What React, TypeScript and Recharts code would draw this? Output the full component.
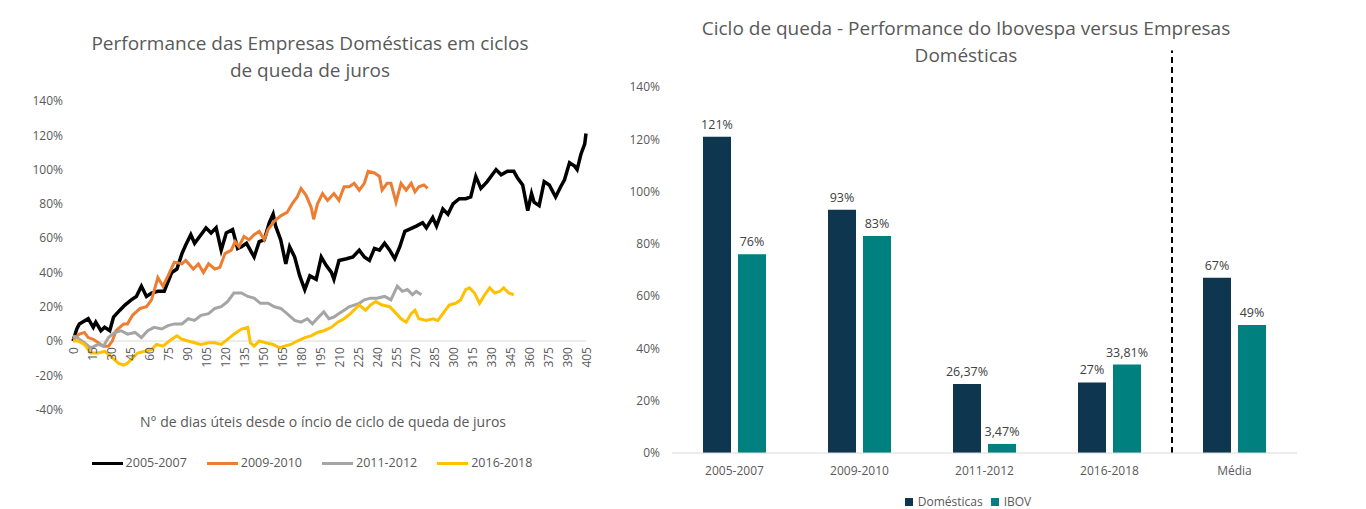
import React from 'react';
import {
  LineChart, Line, XAxis, YAxis, CartesianGrid, BarChart, Bar, LabelList, ReferenceLine,
} from 'recharts';

// ---------- Left chart data: [business day, performance %] ----------
const series2005: [number, number][] = [
  [0,0],[3,7],[5,10],[12,13],[16,8],[18,11],[22,6],[25,8],[29,6],[32,14],[37,18],[41,21],[46,24],[50,26],[54,32],[58,26],[62,28],[67,29],[72,29],[78,40],[82,42],[86,51],[89,56],[93,62],[96,57],[100,61],[105,66],[109,63],[113,66],[117,53],[121,63],[126,65],[130,54],[133,55],[137,57],[143,49],[147,58],[151,59],[155,69],[158,74],[160,67],[164,59],[168,45],[171,55],[175,49],[179,38],[183,30],[187,38],[192,36],[196,49],[200,44],[204,40],[206,36],[210,47],[216,48],[221,49],[226,53],[230,49],[234,47],[238,54],[242,53],[246,57],[250,53],[254,48],[258,55],[262,64],[268,66],[271,67],[276,69],[279,66],[284,72],[287,67],[292,77],[296,74],[300,80],[305,83],[310,83],[314,84],[318,96],[322,89],[327,93],[334,100],[338,97],[343,99],[348,99],[351,95],[355,91],[359,76],[362,86],[364,81],[368,79],[372,93],[376,91],[381,84],[385,90],[388,94],[392,104],[396,102],[398,100],[401,109],[404,115],[405,121],
];
const series2009: [number, number][] = [
  [0,1],[5,4],[9,5],[12,2],[16,1],[20,-1],[24,-3],[28,-3],[31,0],[34,6],[40,10],[43,10],[47,15],[53,19],[58,20],[62,24],[67,37],[71,32],[75,38],[80,46],[86,45],[89,47],[95,42],[99,45],[103,40],[107,45],[112,42],[116,43],[120,51],[125,53],[128,58],[131,55],[135,61],[139,59],[143,62],[147,64],[151,59],[154,65],[159,70],[164,73],[169,75],[173,80],[177,84],[180,89],[184,85],[188,78],[190,71],[193,80],[197,86],[201,82],[206,86],[210,82],[214,90],[218,90],[222,92],[226,88],[230,92],[233,99],[238,98],[242,96],[244,88],[248,92],[251,92],[255,81],[259,92],[263,88],[267,92],[270,87],[273,90],[277,91],[280,89],
];
const series2011: [number, number][] = [
  [0,3],[3,2],[9,-1],[14,-4],[20,-2],[24,-3],[28,2],[33,5],[38,6],[43,4],[49,5],[54,2],[59,6],[64,8],[70,7],[75,9],[80,10],[86,10],[91,13],[96,12],[101,15],[107,16],[112,19],[117,20],[122,23],[127,28],[133,28],[138,26],[143,25],[148,22],[154,22],[159,20],[164,19],[169,16],[175,12],[180,11],[185,13],[189,10],[194,14],[198,17],[202,13],[206,14],[210,16],[214,18],[218,20],[226,22],[230,24],[235,25],[240,25],[246,26],[251,24],[256,32],[260,29],[264,30],[268,27],[271,29],[275,27],
];
const series2016: [number, number][] = [
  [0,0],[4,0],[9,-2],[14,-7],[20,-7],[25,-6],[30,-9],[36,-13],[40,-14],[43,-13],[47,-10],[51,-7],[57,-6],[62,-5],[66,-2],[71,-3],[76,0],[82,3],[86,1],[91,0],[96,-1],[101,-2],[107,-1],[112,-1],[117,-2],[122,1],[127,4],[133,7],[138,8],[140,-1],[143,-3],[147,0],[152,-1],[158,-2],[163,-4],[167,-3],[172,-2],[177,0],[183,2],[188,3],[193,5],[198,6],[204,8],[209,11],[214,13],[219,16],[226,21],[231,18],[235,21],[239,23],[244,21],[250,20],[254,17],[259,13],[263,11],[267,16],[270,18],[273,13],[279,12],[284,13],[288,12],[292,16],[297,21],[302,22],[306,24],[310,30],[313,31],[317,28],[321,22],[325,27],[329,31],[333,28],[337,29],[340,31],[344,28],[348,27],
];
const lineNames = ['2005-2007', '2009-2010', '2011-2012', '2016-2018'];
const lineColors = ['#000000', '#ED7D31', '#A5A5A5', '#FFC000'];
const lineSeries = [series2005, series2009, series2011, series2016];
const xTicksLeft = [0,15,30,45,60,75,90,105,120,135,150,165,180,195,210,225,240,255,270,285,300,315,330,345,360,375,390,405];
const yTicksLeft = [-40,-20,0,20,40,60,80,100,120,140];

// ---------- Right chart data ----------
const barCategories = ['2005-2007', '2009-2010', '2011-2012', '2016-2018', 'Média'];
const domValues = [121, 93, 26.37, 27, 67];
const ibovValues = [76, 83, 3.47, 33.81, 49];
const domLabels = ['121%', '93%', '26,37%', '27%', '67%'];
const ibovLabels = ['76%', '83%', '3,47%', '33,81%', '49%'];
const barNames = ['Domésticas', 'IBOV'];
const barColors = ['#0E364F', '#00807E'];
const yTicksRight = [0,20,40,60,80,100,120,140];
const separatorCategory = 'Média'; // dashed separator drawn at the start of this band

const FONT = "'Open Sans', sans-serif";
const GRAY = '#595959';

// left plot geometry
const L_TOP = 101;
const L_H = 308.6;
const L_ZERO_Y = L_TOP + L_H * (140 / 180);

const XTickRotated = (props: any) => {
  const { x, payload } = props;
  return (
    <text
      transform={`translate(${x},${L_ZERO_Y + 6}) rotate(-90)`}
      textAnchor="end"
      dominantBaseline="central"
      fontSize={12}
      fill={GRAY}
      fontFamily={FONT}
    >
      {payload.value}
    </text>
  );
};

export default function App() {
  const lineData = lineSeries.map((s) => s.map(([d, v]) => ({ d, v })));
  const barData = barCategories.map((c, i) => ({
    cat: c,
    dom: domValues[i],
    ibov: ibovValues[i],
    domLabel: domLabels[i],
    ibovLabel: ibovLabels[i],
  }));

  return (
    <div style={{ position: 'absolute', left: 0, top: 0, width: 1366, height: 509, background: '#fff', fontFamily: FONT, color: GRAY, overflow: 'hidden' }}>
      {/* Left title */}
      <div style={{ position: 'absolute', left: 0, top: 30, width: 620, textAlign: 'center', fontSize: 19, lineHeight: '27px' }}>
        Performance das Empresas Domésticas em ciclos<br />de queda de juros
      </div>
      <div style={{ position: 'absolute', left: 0, top: 0 }}>
        <LineChart width={600} height={509} margin={{ top: L_TOP, right: 14, bottom: 509 - L_TOP - L_H - 30, left: 13 }}>
          <CartesianGrid vertical={false} horizontalValues={[0]} stroke="#D9D9D9" />
          <XAxis
            dataKey="d"
            type="number"
            domain={[0, 405]}
            ticks={xTicksLeft}
            interval={0}
            height={30}
            axisLine={false}
            tickLine={false}
            tick={<XTickRotated />}
            allowDuplicatedCategory={false}
          />
          <YAxis
            type="number"
            domain={[-40, 140]}
            ticks={yTicksLeft}
            interval={0}
            width={60}
            axisLine={false}
            tickLine={false}
            tickMargin={4}
            tickFormatter={(v: number) => `${v}%`}
            tick={{ fontSize: 12, fill: GRAY, fontFamily: FONT }}
          />
          {lineData.map((data, i) => (
            <Line
              key={lineNames[i]}
              data={data}
              dataKey="v"
              name={lineNames[i]}
              type="linear"
              stroke={lineColors[i]}
              strokeWidth={i === 0 ? 3.5 : 3}
              dot={false}
              activeDot={false}
              isAnimationActive={false}
            />
          ))}
        </LineChart>
      </div>
      {/* Left axis title */}
      <div style={{ position: 'absolute', left: 23, top: 413, width: 600, textAlign: 'center', fontSize: 14, lineHeight: '18px' }}>
        N° de dias úteis desde o íncio de ciclo de queda de juros
      </div>
      {/* Left legend */}
      <div style={{ position: 'absolute', left: 0, top: 454, width: 624, display: 'flex', justifyContent: 'center', gap: 20, fontSize: 12.5, lineHeight: '18px' }}>
        {lineNames.map((n, i) => (
          <div key={n} style={{ display: 'flex', alignItems: 'center' }}>
            <div style={{ width: 31, height: 3, background: lineColors[i], marginRight: 3 }} />
            <span>{n}</span>
          </div>
        ))}
      </div>

      {/* Right title */}
      <div style={{ position: 'absolute', left: 666, top: 15, width: 600, textAlign: 'center', fontSize: 19, lineHeight: '27px' }}>
        Ciclo de queda - Performance do Ibovespa versus Empresas<br />Domésticas
      </div>
      <div style={{ position: 'absolute', left: 600, top: 0 }}>
        <BarChart width={766} height={509} data={barData} margin={{ top: 87, right: 69, bottom: 26, left: 22 }} barCategoryGap={31} barGap={7}>
          <XAxis
            dataKey="cat"
            height={30}
            axisLine={{ stroke: '#D9D9D9' }}
            tickLine={false}
            tickMargin={7}
            tick={{ fontSize: 12, fill: GRAY, fontFamily: FONT }}
          />
          <YAxis
            domain={[0, 140]}
            ticks={yTicksRight}
            interval={0}
            width={50}
            axisLine={false}
            tickLine={false}
            tickMargin={6}
            tickFormatter={(v: number) => `${v}%`}
            tick={{ fontSize: 12, fill: GRAY, fontFamily: FONT }}
          />
          <ReferenceLine
            segment={[{ x: separatorCategory, y: 0 }, { x: separatorCategory, y: 154 }]}
            position="start"
            ifOverflow="visible"
            stroke="#000"
            strokeWidth={2}
            strokeDasharray="6 4"
          />
          <Bar dataKey="dom" name={barNames[0]} fill={barColors[0]} isAnimationActive={false}>
            <LabelList dataKey="domLabel" position="top" offset={8} fill="#404040" fontSize={12.5} fontFamily={FONT} />
          </Bar>
          <Bar dataKey="ibov" name={barNames[1]} fill={barColors[1]} isAnimationActive={false}>
            <LabelList dataKey="ibovLabel" position="top" offset={8} fill="#404040" fontSize={12.5} fontFamily={FONT} />
          </Bar>
        </BarChart>
      </div>
      {/* Right legend */}
      <div style={{ position: 'absolute', left: 600, top: 493, width: 736, display: 'flex', justifyContent: 'center', gap: 8, fontSize: 12, lineHeight: '18px' }}>
        {barNames.map((n, i) => (
          <div key={n} style={{ display: 'flex', alignItems: 'center' }}>
            <div style={{ width: 8, height: 8, background: barColors[i], marginRight: 5 }} />
            <span>{n}</span>
          </div>
        ))}
      </div>
    </div>
  );
}
